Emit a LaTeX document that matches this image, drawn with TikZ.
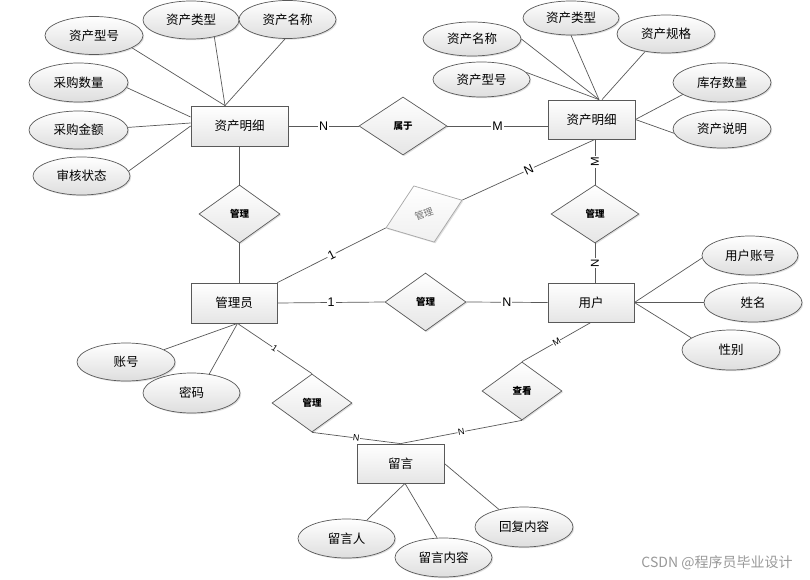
\documentclass[tikz,border=0pt]{standalone}
\usepackage{fontspec}
\setmainfont{Noto Sans CJK SC}
\newfontfamily\latin{Liberation Sans}
\usetikzlibrary{shapes.geometric,shadows,calc}
\begin{document}
\begin{tikzpicture}[x=1pt,y=-1pt,
  line/.style={draw=black!65, line width=0.7pt},
  shad/.style={drop shadow={shadow xshift=1.2pt, shadow yshift=-1.2pt, opacity=0.25}},
  ent/.style={rectangle, draw=black!65, line width=0.8pt, top color=white, bottom color=black!10, shad,
    minimum width=87pt, minimum height=39pt, inner sep=0pt, font=\fontsize{12.5}{14}\selectfont},
  attr/.style={ellipse, draw=black!65, line width=0.7pt, top color=white, bottom color=black!13, shad,
    minimum width=98pt, minimum height=38pt, inner sep=0pt, font=\fontsize{12.5}{14}\selectfont},
  rel/.style={diamond, draw=black!65, line width=0.7pt, top color=white, bottom color=black!10, shad,
    minimum width=81pt, minimum height=58pt, inner sep=0pt, font=\fontsize{9.5}{11}\selectfont\bfseries},
  card/.style={fill=white, inner sep=1pt, font=\latin\fontsize{12.5}{13}\selectfont},
  cardv/.style={fill=white, inner sep=1pt, font=\latin\fontsize{11.5}{12}\selectfont, rotate=90},
  cards/.style={fill=white, inner sep=0.5pt, font=\latin\fontsize{9}{10}\selectfont, sloped},
]
\fill[white] (0,0) rectangle (810,580);
\useasboundingbox (0,0) rectangle (810,580);

% entities
\node[ent, minimum width=97pt, minimum height=40pt] (E1) at (239.5,126) {资产明细};
\node[ent] (E2) at (591.5,119.5) {资产明细};
\node[ent, minimum width=86pt, minimum height=40pt] (E3) at (234,303) {管理员};
\node[ent, minimum width=86pt] (E4) at (591,302.5) {用户};
\node[ent] (E5) at (400.5,463.5) {留言};

% relations
\node[rel, minimum width=88pt] (R1) at (403,126) {属于};
\node[rel] (R2) at (239.5,214) {管理};
\node[rel, rotate=20, minimum height=60pt, draw=black!35, text=black!55, bottom color=black!6,
  font=\fontsize{9.5}{11}\selectfont] (R3) at (424,214) {管理};
\node[rel, minimum width=88pt] (R4) at (595,214) {管理};
\node[rel] (R5) at (425.5,302) {管理};
\node[rel, minimum width=80pt] (R6) at (312,403) {管理};
\node[rel, minimum width=80pt] (R7) at (522,391) {查看};

% attributes of left 资产明细
\node[attr] (A1) at (94,35.5) {资产型号};
\node[attr, minimum width=96pt] (A2) at (191,20) {资产类型};
\node[attr, minimum width=97pt] (A3) at (287.5,19.5) {资产名称};
\node[attr, minimum width=99pt, minimum height=39pt] (A4) at (78.5,82.5) {采购数量};
\node[attr, minimum width=99pt] (A5) at (78.5,130) {采购金额};
\node[attr, minimum width=97pt] (A6) at (81.5,176) {审核状态};

% attributes of right 资产明细
\node[attr, minimum height=34pt] (B1) at (472,39) {资产名称};
\node[attr, minimum width=96pt, minimum height=34pt] (B2) at (571,18) {资产类型};
\node[attr] (B3) at (666,34) {资产规格};
\node[attr, minimum width=97pt, minimum height=35pt] (B4) at (481.5,79.5) {资产型号};
\node[attr, minimum height=39pt] (B5) at (722,82.5) {库存数量};
\node[attr] (B6) at (722,129) {资产说明};

% attributes of 管理员
\node[attr] (C1) at (126,362) {账号};
\node[attr, minimum width=97pt, minimum height=40pt] (C2) at (191.5,393) {密码};

% attributes of 用户
\node[attr, minimum width=96pt, minimum height=39pt] (D1) at (750,255.5) {用户账号};
\node[attr, minimum height=39pt] (D2) at (753,302.5) {姓名};
\node[attr, minimum height=40pt] (D3) at (731,350) {性别};

% attributes of 留言
\node[attr, minimum width=97pt, minimum height=39pt] (F1) at (346.5,538.5) {留言人};
\node[attr, minimum width=97pt, minimum height=39pt] (F2) at (443.5,557.5) {留言内容};
\node[attr, minimum height=40pt] (F3) at (524,527) {回复内容};

% watermark
\node[font=\fontsize{14}{15}\selectfont, text=black!40] (wm) at (717,563) {CSDN @程序员毕业设计};

% attribute connectors
\coordinate (e1t) at ([xshift=-14.5pt]E1.north);
\draw[line] (A1.-18) -- (e1t);
\draw[line] (A2.-36) -- (e1t);
\draw[line] (A3.-97) -- (e1t);
\draw[line] (A4.-6) -- ($(E1.west)+(0,-9)$);
\draw[line] (A5.3) -- ($(E1.west)+(0,-3)$);
\draw[line] (A6.6) -- (E1.west);

\coordinate (e2t) at ([xshift=7.5pt]E2.north);
\draw[line] (B1.east) -- (e2t);
\draw[line] (B2.south) -- (e2t);
\draw[line] (B4.9) -- (e2t);
\draw[line] (B3.-140) -- ([xshift=10.5pt]E2.north);
\draw[line] (B5.-163) -- (E2.east);
\draw[line] (B6.-175) -- (E2.east);

\coordinate (e3b) at ([xshift=3.5pt]E3.south);
\draw[line] (C1.18) -- (e3b);
\draw[line] (C2.47) -- (e3b);

\draw[line] (D1.-177) -- (E4.east);
\draw[line] (D2.west) -- (E4.east);
\draw[line] (D3.163) -- (E4.east);

\coordinate (e5b) at ([xshift=4.5pt]E5.south);
\draw[line] (F1.42) -- (e5b);
\draw[line] (F2.108) -- (e5b);
\draw[line] (F3.145) -- (E5.east);

% relationship connectors
\draw[line] (E1.east) -- node[card]{N} (R1.west);
\draw[line] (R1.east) -- node[card]{M} (R1.east -| E2.west);
\draw[line] (E1.south) -- (R2.north);
\draw[line] (R2.south) -- (R2.south |- E3.north);
\draw[line] (E3.north east) -- node[card, sloped]{1} (R3.west);
\coordinate (e2b) at (R4.north |- E2.south);
\draw[line] (R3.east) -- node[card, sloped]{N} (e2b);
\draw[line] (e2b) -- node[cardv]{M} (R4.north);
\draw[line] (R4.south) -- node[cardv]{N} (R4.south |- E4.north);
\draw[line] (E3.east) -- node[card]{1} (R5.west);
\draw[line] (R5.east) -- node[card]{N} (E4.west);
\draw[line] (e3b) -- node[cards]{1} (R6.north);
\draw[line] (R6.south) -- node[cards]{N} (E5.north);
\draw[line] (R7.south) -- node[cards]{N} (E5.north);
\draw[line] (R7.north) -- node[cards]{M} (E4.south);
\end{tikzpicture}
\end{document}
